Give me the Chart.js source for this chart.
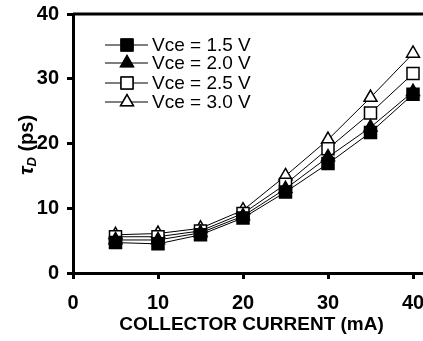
<!DOCTYPE html>
<html>
<head>
<meta charset="utf-8">
<script src="https://cdn.jsdelivr.net/npm/chart.js@4.4.0/dist/chart.umd.min.js"></script>
<style>
  html, body { margin: 0; padding: 0; background: #fff; overflow: hidden; }
  #wrap { width: 440px; height: 341px; }
</style>
</head>
<body>
<div id="wrap"><canvas id="chart" width="440" height="341"></canvas></div>
<script>
// collector current (mA)
const currents = [5, 10, 15, 20, 25, 30, 35, 40];

// tau_D (ps) for each Vce
const vce15 = [4.7, 4.5, 5.9, 8.5, 12.5, 16.9, 21.7, 27.6];
const vce20 = [5.1, 5.1, 6.2, 8.8, 13.0, 17.9, 22.5, 28.0];
const vce25 = [5.6, 5.6, 6.5, 9.2, 13.7, 19.2, 24.7, 30.8];
const vce30 = [5.9, 6.1, 6.9, 9.7, 15.0, 20.6, 27.1, 33.9];

const seriesLabels = ['Vce = 1.5 V', 'Vce = 2.0 V', 'Vce = 2.5 V', 'Vce = 3.0 V'];
const xTicks = [0, 10, 20, 30, 40];
const yTicks = [0, 10, 20, 30, 40];

const FONT = '"Liberation Sans", Arial, sans-serif';

function makeSeries(label, values, style, filled) {
    return {
        label: label,
        data: currents.map((x, i) => ({ x: x, y: values[i] })),
        borderColor: '#000',
        borderWidth: 1,
        pointStyle: style,
        pointRadius: style === 'rect' ? 8.5 : 7.5,
        pointBorderWidth: 1.5,
        pointBorderColor: '#000',
        pointBackgroundColor: filled ? '#000' : '#fff',
        tension: 0
    };
}

// frame around the plotting area (top / right edges)
const frame = {
    id: 'frame',
    afterDatasetsDraw(chart) {
        const { ctx, chartArea: a } = chart;
        ctx.save();
        ctx.strokeStyle = '#000';
        ctx.lineWidth = 3;
        ctx.beginPath();
        ctx.moveTo(a.left, a.top);
        ctx.lineTo(a.right, a.top);
        ctx.lineTo(a.right, a.bottom);
        ctx.stroke();
        ctx.restore();
    }
};

// legend with a line sample through each marker, plus the y title with subscript
const extras = {
    id: 'extras',
    afterDraw(chart) {
        const ctx = chart.ctx;
        ctx.save();
        const rows = [45, 63, 83, 102];
        chart.data.datasets.forEach((ds, i) => {
            const y = rows[i];
            ctx.strokeStyle = '#000';
            ctx.lineWidth = 1;
            ctx.beginPath();
            ctx.moveTo(105, y);
            ctx.lineTo(148, y);
            ctx.stroke();
            Chart.helpers.drawPoint(ctx, {
                pointStyle: ds.pointStyle,
                radius: ds.pointRadius,
                borderWidth: ds.pointBorderWidth
            }, 127, y);
            ctx.fillStyle = ds.pointBackgroundColor;
            ctx.fill();
            ctx.strokeStyle = '#000';
            ctx.lineWidth = ds.pointBorderWidth;
            ctx.stroke();
            ctx.fillStyle = '#000';
            ctx.font = '19px ' + FONT;
            ctx.textAlign = 'left';
            ctx.textBaseline = 'middle';
            ctx.fillText(ds.label, 152, y + 1);
        });

        // y axis title: tau_D (ps)
        ctx.translate(26, 145);
        ctx.rotate(-Math.PI / 2);
        ctx.fillStyle = '#000';
        ctx.textBaseline = 'alphabetic';
        ctx.textAlign = 'left';
        const tau = 'τ';
        const rest = ' (ps)';
        ctx.font = 'italic bold 21px ' + FONT;
        const wTau = ctx.measureText(tau).width;
        ctx.font = 'italic bold 13px ' + FONT;
        const wD = ctx.measureText('D').width;
        ctx.font = 'bold 20px ' + FONT;
        const wRest = ctx.measureText(rest).width;
        let x = -(wTau + wD + wRest) / 2;
        ctx.font = 'italic bold 21px ' + FONT;
        ctx.fillText(tau, x, 7);
        x += wTau;
        ctx.font = 'italic bold 13px ' + FONT;
        ctx.fillText('D', x, 10);
        x += wD;
        ctx.font = 'bold 20px ' + FONT;
        ctx.fillText(rest, x, 7);
        ctx.restore();
    }
};

new Chart(document.getElementById('chart'), {
    type: 'line',
    data: {
        datasets: [
            makeSeries(seriesLabels[0], vce15, 'rect', true),
            makeSeries(seriesLabels[1], vce20, 'triangle', true),
            makeSeries(seriesLabels[2], vce25, 'rect', false),
            makeSeries(seriesLabels[3], vce30, 'triangle', false)
        ]
    },
    options: {
        responsive: false,
        animation: false,
        layout: { padding: { top: 14, left: 0, right: 0, bottom: 0 } },
        plugins: {
            legend: { display: false },
            tooltip: { enabled: false }
        },
        scales: {
            x: {
                type: 'linear',
                min: 0,
                max: 42,
                afterBuildTicks(axis) { axis.ticks = xTicks.map(v => ({ value: v })); },
                afterFit(axis) { axis.height = 68; axis.paddingLeft = 0; axis.paddingRight = 0; },
                border: { display: true, color: '#000', width: 3 },
                grid: { drawOnChartArea: false, drawTicks: true, tickLength: 6, color: '#000', lineWidth: 3 },
                ticks: { color: '#000', padding: 12, maxRotation: 0, font: { family: FONT, size: 20, weight: 'bold' } },
                title: {
                    display: true,
                    text: 'COLLECTOR CURRENT (mA)',
                    color: '#000',
                    padding: { top: 0, bottom: 5 },
                    font: { family: FONT, size: 19, weight: 'bold' }
                }
            },
            y: {
                min: 0,
                max: 40,
                afterBuildTicks(axis) { axis.ticks = yTicks.map(v => ({ value: v })); },
                afterFit(axis) { axis.width = 73; axis.paddingTop = 0; axis.paddingBottom = 0; },
                border: { display: true, color: '#000', width: 3 },
                grid: { drawOnChartArea: false, drawTicks: true, tickLength: 6, color: '#000', lineWidth: 3 },
                ticks: { color: '#000', padding: 8, font: { family: FONT, size: 20, weight: 'bold' } }
            }
        }
    },
    plugins: [frame, extras]
});
</script>
</body>
</html>
